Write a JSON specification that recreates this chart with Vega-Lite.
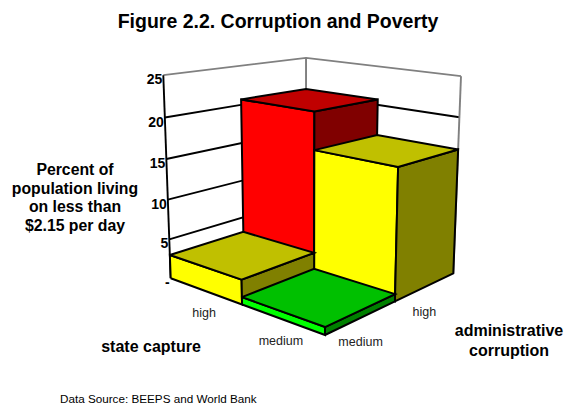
{
  "$schema": "https://vega.github.io/schema/vega-lite/v6.json",
  "width": 564,
  "height": 406,
  "padding": 0,
  "autosize": {"type": "fit", "contains": "padding"},
  "background": "white",
  "view": {"stroke": null},
  "config": {"text": {"font": "Liberation Sans", "color": "#000000"}},
  "datasets": {
    "bars": [
      {"capture": "high", "admin": "high", "percent": 20.7},
      {"capture": "medium", "admin": "high", "percent": 16},
      {"capture": "high", "admin": "medium", "percent": 3},
      {"capture": "medium", "admin": "medium", "percent": 0.9}
    ],
    "ticks": [
      {"percent": 0}, {"percent": 5}, {"percent": 10},
      {"percent": 15}, {"percent": 20}, {"percent": 25}
    ],
    "edges": [
      {"edge": "back"}, {"edge": "right"}, {"edge": "left"}
    ],
    "levels": [
      {"dimension": "state capture", "level": "high"},
      {"dimension": "state capture", "level": "medium"},
      {"dimension": "administrative corruption", "level": "medium"},
      {"dimension": "administrative corruption", "level": "high"}
    ]
  },
  "encoding": {
    "x": {"field": "sx", "type": "quantitative", "axis": null, "scale": {"domain": [0, 564], "nice": false, "zero": false}},
    "y": {"field": "sy", "type": "quantitative", "axis": null, "scale": {"domain": [0, 406], "reverse": true, "nice": false, "zero": false}}
  },
  "layer": [
    {
      "data": {"name": "ticks"},
      "transform": [
        {"filter": "datum.percent > 0"},
        {"calculate": "[{i:0,u:0,v:0},{i:1,u:0,v:2},{i:2,u:2,v:2}]", "as": "node"},
        {"flatten": ["node"]},
        {"calculate": "datum.node.u", "as": "u"},
        {"calculate": "datum.node.v", "as": "v"},
        {"calculate": "datum.node.i", "as": "step"},
        {"calculate": "datum.percent", "as": "p"},
        {"calculate": "1 - 0.07*datum.u + 0.085*datum.v - 0.0515*datum.p/25", "as": "den"},
        {"calculate": "(170.7 + 54.4*datum.u + 93.7*datum.v - 15.81*datum.p/25)/datum.den", "as": "sx"},
        {"calculate": "(278.3 + 4.9*datum.u - 3.3*datum.v - 207*datum.p/25)/datum.den", "as": "sy"},
        {"calculate": "datum.percent == 25 ? '#808080' : '#000000'", "as": "ink"}
      ],
      "mark": {"type": "line", "strokeWidth": 1.9, "strokeJoin": "miter"},
      "encoding": {
        "detail": {"field": "percent"},
        "order": {"field": "step", "type": "quantitative"},
        "stroke": {"field": "ink", "type": "nominal", "scale": null}
      }
    },
    {
      "data": {"name": "edges"},
      "transform": [
        {"calculate": "[0,25]", "as": "p"},
        {"flatten": ["p"]},
        {"calculate": "datum.edge == 'right' ? 2 : 0", "as": "u"},
        {"calculate": "datum.edge == 'left' ? 0 : 2", "as": "v"},
        {"calculate": "1 - 0.07*datum.u + 0.085*datum.v - 0.0515*datum.p/25", "as": "den"},
        {"calculate": "(170.7 + 54.4*datum.u + 93.7*datum.v - 15.81*datum.p/25)/datum.den", "as": "sx"},
        {"calculate": "(278.3 + 4.9*datum.u - 3.3*datum.v - 207*datum.p/25)/datum.den", "as": "sy"},
        {"calculate": "datum.edge == 'left' ? '#000000' : '#808080'", "as": "ink"}
      ],
      "mark": {"type": "line", "strokeWidth": 1.9},
      "encoding": {
        "detail": {"field": "edge"},
        "order": {"field": "p", "type": "quantitative"},
        "stroke": {"field": "ink", "type": "nominal", "scale": null}
      }
    },
    {
      "data": {"name": "bars"},
      "transform": [
        {"calculate": "datum.capture == 'high' ? 0 : 1", "as": "u0"},
        {"calculate": "datum.admin == 'medium' ? 0 : 1", "as": "v0"},
        {"calculate": "[{f:'front',i:0,du:0,dv:0,t:0},{f:'front',i:1,du:1,dv:0,t:0},{f:'front',i:2,du:1,dv:0,t:1},{f:'front',i:3,du:0,dv:0,t:1},{f:'front',i:4,du:0,dv:0,t:0},{f:'side',i:0,du:1,dv:0,t:0},{f:'side',i:1,du:1,dv:1,t:0},{f:'side',i:2,du:1,dv:1,t:1},{f:'side',i:3,du:1,dv:0,t:1},{f:'side',i:4,du:1,dv:0,t:0},{f:'top',i:0,du:0,dv:0,t:1},{f:'top',i:1,du:1,dv:0,t:1},{f:'top',i:2,du:1,dv:1,t:1},{f:'top',i:3,du:0,dv:1,t:1},{f:'top',i:4,du:0,dv:0,t:1}]", "as": "corner"},
        {"flatten": ["corner"]},
        {"calculate": "datum.u0 + datum.corner.du", "as": "u"},
        {"calculate": "datum.v0 + datum.corner.dv", "as": "v"},
        {"calculate": "datum.percent * datum.corner.t", "as": "p"},
        {"calculate": "datum.corner.i", "as": "step"},
        {"calculate": "datum.capture + '/' + datum.admin + '/' + datum.corner.f", "as": "face"},
        {"calculate": "(datum.percent >= 20 ? 'red' : datum.percent >= 2 ? 'yellow' : 'green') + '-' + datum.corner.f", "as": "tone"},
        {"calculate": "1 - 0.07*datum.u + 0.085*datum.v - 0.0515*datum.p/25", "as": "den"},
        {"calculate": "(170.7 + 54.4*datum.u + 93.7*datum.v - 15.81*datum.p/25)/datum.den", "as": "sx"},
        {"calculate": "(278.3 + 4.9*datum.u - 3.3*datum.v - 207*datum.p/25)/datum.den", "as": "sy"}
      ],
      "mark": {"type": "line", "stroke": "#000000", "strokeWidth": 2, "strokeJoin": "miter"},
      "encoding": {
        "detail": {"field": "face"},
        "order": {"field": "step", "type": "quantitative"},
        "fill": {
          "field": "tone",
          "type": "nominal",
          "legend": null,
          "scale": {
            "domain": ["red-front", "red-side", "red-top", "yellow-front", "yellow-side", "yellow-top", "green-front", "green-side", "green-top"],
            "range": ["#FF0000", "#800000", "#C00000", "#FFFF00", "#808000", "#C0C000", "#00FF00", "#008000", "#00C000"]
          }
        }
      }
    },
    {
      "data": {"name": "ticks"},
      "transform": [
        {"calculate": "datum.percent == 0 ? '-' : '' + datum.percent", "as": "label"},
        {"calculate": "0", "as": "u"},
        {"calculate": "0", "as": "v"},
        {"calculate": "datum.percent", "as": "p"},
        {"calculate": "1 - 0.07*datum.u + 0.085*datum.v - 0.0515*datum.p/25", "as": "den"},
        {"calculate": "(170.7 + 54.4*datum.u + 93.7*datum.v - 15.81*datum.p/25)/datum.den", "as": "sx"},
        {"calculate": "(278.3 + 4.9*datum.u - 3.3*datum.v - 207*datum.p/25)/datum.den", "as": "sy"}
      ],
      "mark": {"type": "text", "align": "right", "baseline": "middle", "dx": -1, "dy": 5, "fontSize": 14, "fontWeight": "bold"},
      "encoding": {"text": {"field": "label"}}
    },
    {
      "data": {"name": "levels"},
      "transform": [
        {"calculate": "datum.dimension == 'state capture' ? (datum.level == 'high' ? 0.5 : 1.5) : 2", "as": "u"},
        {"calculate": "datum.dimension == 'state capture' ? 0 : (datum.level == 'medium' ? 0.5 : 1.5)", "as": "v"},
        {"calculate": "0", "as": "p"},
        {"calculate": "1 - 0.07*datum.u + 0.085*datum.v - 0.0515*datum.p/25", "as": "den"},
        {"calculate": "(170.7 + 54.4*datum.u + 93.7*datum.v - 15.81*datum.p/25)/datum.den", "as": "sx"},
        {"calculate": "(278.3 + 4.9*datum.u - 3.3*datum.v - 207*datum.p/25)/datum.den + (datum.dimension == 'state capture' ? 0 : 3)", "as": "sy"}
      ],
      "mark": {"type": "text", "align": "center", "baseline": "middle", "dx": -1, "dy": 22, "fontSize": 12.5, "color": "#222222"},
      "encoding": {"text": {"field": "level"}}
    },
    {
      "data": {"values": [{"caption": "Figure 2.2. Corruption and Poverty"}]},
      "mark": {"type": "text", "align": "center", "baseline": "middle", "fontSize": 19.5, "fontWeight": "bold"},
      "encoding": {
        "x": {"value": 278},
        "y": {"value": 22},
        "text": {"field": "caption"}
      }
    },
    {
      "data": {"values": [{"caption": ["Percent of", "population living", "on less than", "$2.15 per day"]}]},
      "mark": {"type": "text", "align": "center", "baseline": "top", "fontSize": 15.8, "fontWeight": "bold", "lineHeight": 18.7},
      "encoding": {
        "x": {"value": 75},
        "y": {"value": 163},
        "text": {"field": "caption"}
      }
    },
    {
      "data": {"values": [{"caption": "state capture"}]},
      "mark": {"type": "text", "align": "center", "baseline": "middle", "fontSize": 16, "fontWeight": "bold"},
      "encoding": {
        "x": {"value": 151},
        "y": {"value": 347},
        "text": {"field": "caption"}
      }
    },
    {
      "data": {"values": [{"caption": ["administrative", "corruption"]}]},
      "mark": {"type": "text", "align": "center", "baseline": "top", "fontSize": 16, "fontWeight": "bold", "lineHeight": 20},
      "encoding": {
        "x": {"value": 509},
        "y": {"value": 323},
        "text": {"field": "caption"}
      }
    },
    {
      "data": {"values": [{"caption": "Data Source: BEEPS and World Bank"}]},
      "mark": {"type": "text", "align": "left", "baseline": "middle", "fontSize": 11.7},
      "encoding": {
        "x": {"value": 60},
        "y": {"value": 399},
        "text": {"field": "caption"}
      }
    }
  ]
}
